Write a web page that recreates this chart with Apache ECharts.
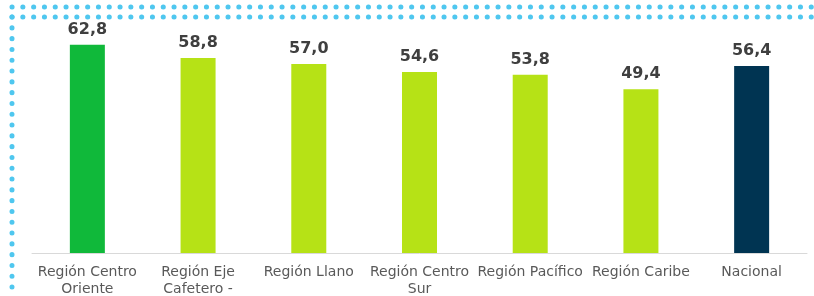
<!DOCTYPE html>
<html>
<head>
<meta charset="utf-8">
<script src="https://cdn.jsdelivr.net/npm/echarts@6/dist/echarts.min.js"></script>
<style>
  html, body { margin: 0; padding: 0; background: #ffffff; }
  #chart { width: 814px; height: 296px; }
</style>
</head>
<body>
<div id="chart"></div>
<script>
// categories and values
const regions = [
  'Región Centro Oriente',
  'Región Eje Cafetero - Antioquia',
  'Región Llano',
  'Región Centro Sur',
  'Región Pacífico',
  'Región Caribe',
  'Nacional'
]
const values = [62.8, 58.8, 57.0, 54.6, 53.8, 49.4, 56.4]
const barColors = ['#10b93a', '#b6e216', '#b6e216', '#b6e216', '#b6e216', '#b6e216', '#003452']

// simple word wrap for the category names
const wrap = (text, maxChars) => {
  const lines = []
  let line = ''
  text.split(' ').forEach((w) => {
    const next = line ? line + ' ' + w : w
    if (next.length > maxChars && line) {
      lines.push(line)
      line = w
    } else {
      line = next
    }
  })
  if (line) lines.push(line)
  return lines.join('\n')
}

const dotColor = '#4fc7ef'
const dotted = (x1, y1, x2, y2) => ({
  type: 'line',
  silent: true,
  shape: { x1, y1, x2, y2 },
  style: { stroke: dotColor, lineWidth: 5, lineCap: 'round', lineDash: [0.1, 10.7] }
})

const chart = echarts.init(document.getElementById('chart'))
chart.setOption({
  animation: false,
  grid: { left: 32, right: 7, top: 21, bottom: 43, containLabel: false, outerBoundsMode: 'none' },
  xAxis: {
    type: 'category',
    data: regions,
    axisLine: { lineStyle: { color: '#d9d9d9', width: 1 } },
    axisTick: { show: false },
    axisLabel: {
      interval: 0,
      hideOverlap: false,
      margin: 11,
      color: '#595959',
      fontFamily: 'DejaVu Sans',
      fontSize: 14,
      lineHeight: 17,
      formatter: (v) => wrap(v, 15)
    }
  },
  yAxis: { type: 'value', min: 0, max: 70, show: false, splitLine: { show: false } },
  series: [{
    type: 'bar',
    barWidth: 35,
    data: values.map((v, i) => ({ value: v, itemStyle: { color: barColors[i] } })),
    label: {
      show: true,
      position: 'top',
      distance: 7,
      color: '#3f3f3f',
      fontFamily: 'DejaVu Sans',
      fontWeight: 'bold',
      fontSize: 16,
      formatter: (p) => p.value.toFixed(1).replace('.', ',')
    }
  }],
  graphic: [
    dotted(12, 7, 814, 7),
    dotted(12, 17, 814, 17),
    dotted(12, 17, 12, 296)
  ]
})
</script>
</body>
</html>
